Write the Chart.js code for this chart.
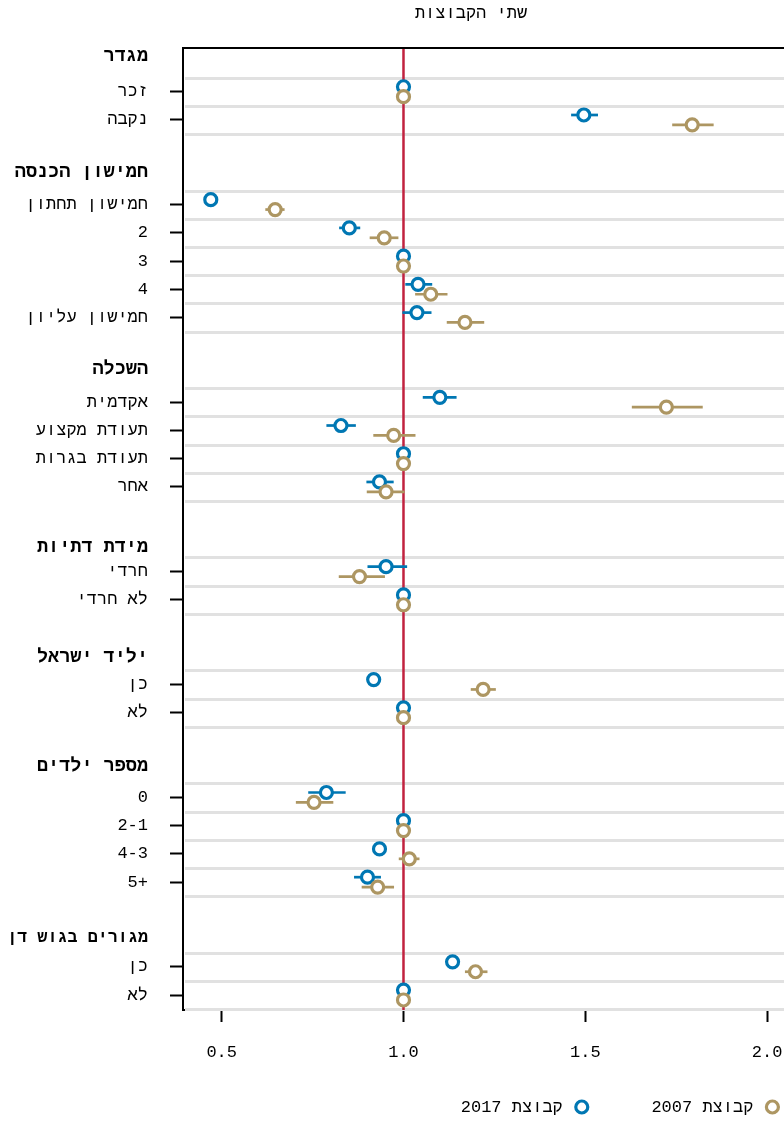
<!DOCTYPE html>
<html>
<head>
<meta charset="utf-8">
<script src="https://cdn.jsdelivr.net/npm/chart.js@4.4.1/dist/chart.umd.min.js"></script>
<style>
  html, body { margin: 0; padding: 0; background: #ffffff; }
  #wrap { width: 784px; height: 1121px; position: relative; }
</style>
</head>
<body>
<div id="wrap"><canvas id="c" width="784" height="1121"></canvas></div>
<script>
// ---- data ----
const groupNames = ['מגדר', 'חמישון הכנסה', 'השכלה', 'מידת דתיות', 'יליד ישראל', 'מספר ילדים', 'מגורים בגוש דן'];
const categories = ['זכר', 'נקבה',
  'חמישון תחתון', '2', '3', '4', 'חמישון עליון',
  'אקדמית', 'תעודת מקצוע', 'תעודת בגרות', 'אחר',
  'חרדי', 'לא חרדי',
  'כן', 'לא',
  '0', '2-1', '4-3', '5+',
  'כן', 'לא'];
const categoryGroup = [0, 0, 1, 1, 1, 1, 1, 2, 2, 2, 2, 3, 3, 4, 4, 5, 5, 5, 5, 6, 6];

const seriesLabels = ['קבוצת 2007', 'קבוצת 2017'];

const ratio2017 = [1, 1.496, 0.470, 0.851, 1, 1.040, 1.037, 1.100, 0.828, 1, 0.934, 0.952, 1, 0.918, 1, 0.788, 1, 0.934, 0.901, 1.135, 1];
const low2017   = [null, 1.461, 0.460, 0.823, null, 1.005, 0.997, 1.053, 0.788, null, 0.898, 0.901, null, 0.908, null, 0.738, null, 0.924, 0.864, 1.125, null];
const high2017  = [null, 1.535, 0.480, 0.881, null, 1.079, 1.077, 1.146, 0.869, null, 0.973, 1.010, null, 0.928, null, 0.841, null, 0.944, 0.938, 1.145, null];

const ratio2007 = [1, 1.794, 0.647, 0.947, 1, 1.075, 1.169, 1.723, 0.973, 1, 0.952, 0.879, 1, 1.219, 1, 0.754, 1, 1.016, 0.929, 1.198, 1];
const low2007   = [null, 1.739, 0.620, 0.907, null, 1.032, 1.119, 1.628, 0.917, null, 0.899, 0.822, null, 1.185, null, 0.704, null, 0.987, 0.885, 1.169, null];
const high2007  = [null, 1.853, 0.673, 0.986, null, 1.121, 1.222, 1.823, 1.033, null, 1.003, 0.949, null, 1.254, null, 0.807, null, 1.044, 0.974, 1.231, null];

const xTickValues = [0.5, 1.0, 1.5, 2.0];

// ---- layout helpers ----
const FONT = 'Liberation Mono';
const COL_2007 = '#ad9662';
const COL_2017 = '#0077b3';
const MARK_R = 6;
const MARK_W = 3.2;
const GROUP_GAP = 2;                                    // empty rows between groups
const headerLift = [1.24, 1.13, 1.18, 0.87, 0.96, 1.11, 1.02]; // header row above first category
const SERIES_SHIFT = 0.175;                             // vertical split of the two series inside a row
const HEADER_MAX_WIDTH = 141;                           // room for bold headers left of the ticks

const rowOf = i => i + GROUP_GAP * categoryGroup[i];
const firstRowOfGroup = g => rowOf(categoryGroup.indexOf(g));

// y ticks: group headers + categories
const yTicks = [];
groupNames.forEach((name, g) => {
  yTicks.push({ value: firstRowOfGroup(g) - headerLift[g], label: name, header: true });
  categories.forEach((c, i) => {
    if (categoryGroup[i] === g) yTicks.push({ value: rowOf(i), label: c, header: false });
  });
});

// monospace advance is 0.6em: shrink long headers so they fit the axis area
const headerSize = label => Math.min(18.5, HEADER_MAX_WIDTH / (label.length * 0.6));

const makePoints = (vals, lo, hi, shift) =>
  categories.map((c, i) => ({ x: vals[i], y: rowOf(i) + shift, lo: lo[i], hi: hi[i] }));

// ---- plugins ----
const backdrop = {
  id: 'backdrop',
  beforeDatasetsDraw(chart) {
    const { ctx, chartArea: a, scales: { x, y } } = chart;
    ctx.save();
    // light row separators around each category
    ctx.strokeStyle = '#e1e1e1';
    ctx.lineWidth = 3;
    const seps = new Set();
    categories.forEach((c, i) => { seps.add(rowOf(i) - 0.5); seps.add(rowOf(i) + 0.5); });
    seps.forEach(v => {
      const py = Math.round(y.getPixelForValue(v)) + 0.5;
      ctx.beginPath(); ctx.moveTo(a.left + 2, py); ctx.lineTo(a.right, py); ctx.stroke();
    });
    // reference line at 1
    const rx = x.getPixelForValue(1);
    ctx.strokeStyle = '#c1223f';
    ctx.lineWidth = 2.5;
    ctx.beginPath(); ctx.moveTo(rx, a.top); ctx.lineTo(rx, a.bottom); ctx.stroke();
    // confidence intervals
    chart.data.datasets.forEach(ds => {
      ctx.strokeStyle = ds.borderColor;
      ctx.lineWidth = 2.7;
      ds.data.forEach(p => {
        if (p.lo == null) return;
        const py = y.getPixelForValue(p.y);
        ctx.beginPath();
        ctx.moveTo(x.getPixelForValue(p.lo), py);
        ctx.lineTo(x.getPixelForValue(p.hi), py);
        ctx.stroke();
      });
    });
    // top frame line
    ctx.strokeStyle = '#000';
    ctx.lineWidth = 2;
    ctx.beginPath(); ctx.moveTo(a.left - 1, a.top); ctx.lineTo(a.right, a.top); ctx.stroke();
    ctx.restore();
  }
};

const heading = {
  id: 'heading',
  afterDraw(chart) {
    const { ctx } = chart;
    ctx.save();
    ctx.font = `17px "${FONT}"`;
    ctx.fillStyle = '#000';
    ctx.textAlign = 'center';
    ctx.textBaseline = 'middle';
    ctx.fillText('שתי הקבוצות', 471, 13);
    ctx.restore();
  }
};

const seriesKey = {
  id: 'seriesKey',
  afterDraw(chart) {
    const { ctx } = chart;
    ctx.save();
    ctx.font = `17px "${FONT}"`;
    ctx.direction = 'rtl';
    ctx.textAlign = 'right';
    ctx.textBaseline = 'middle';
    const cy = 1107;
    let xr = 780;
    chart.data.datasets.forEach(ds => {
      const cx = xr - MARK_R - 1.6;
      ctx.beginPath(); ctx.arc(cx, cy, MARK_R, 0, Math.PI * 2);
      ctx.fillStyle = '#fff'; ctx.fill();
      ctx.strokeStyle = ds.borderColor; ctx.lineWidth = MARK_W; ctx.stroke();
      const tx = cx - MARK_R - 13;
      ctx.fillStyle = '#000';
      ctx.fillText(ds.label, tx, cy);
      xr = tx - ctx.measureText(ds.label).width - 62;
    });
    ctx.restore();
  }
};

// ---- chart ----
new Chart(document.getElementById('c'), {
  type: 'scatter',
  data: {
    datasets: [
      {
        label: seriesLabels[0],
        data: makePoints(ratio2007, low2007, high2007, SERIES_SHIFT),
        borderColor: COL_2007, backgroundColor: '#ffffff',
        pointRadius: MARK_R, pointBorderWidth: MARK_W, pointHoverRadius: MARK_R
      },
      {
        label: seriesLabels[1],
        data: makePoints(ratio2017, low2017, high2017, -SERIES_SHIFT),
        borderColor: COL_2017, backgroundColor: '#ffffff',
        pointRadius: MARK_R, pointBorderWidth: MARK_W, pointHoverRadius: MARK_R
      }
    ]
  },
  options: {
    responsive: false,
    devicePixelRatio: 1,
    animation: false,
    layout: { autoPadding: false, padding: { top: 48, left: 0, right: 0, bottom: 0 } },
    plugins: { legend: { display: false }, tooltip: { enabled: false }, title: { display: false } },
    scales: {
      x: {
        type: 'linear',
        min: 0.3936,
        max: 2.0465,
        afterFit: s => { s.height = 111; s.paddingRight = 0; s.paddingLeft = 0; },
        afterBuildTicks: s => { s.ticks = xTickValues.map(v => ({ value: v })); },
        ticks: {
          callback: v => Number(v).toFixed(1),
          font: { family: FONT, size: 17 },
          color: '#000',
          padding: 20,
          maxRotation: 0,
          autoSkip: false
        },
        grid: { drawOnChartArea: false, drawTicks: true, tickLength: 12, tickWidth: 2, tickColor: '#000' },
        border: { display: true, color: '#000', width: 2 }
      },
      y: {
        type: 'linear',
        reverse: true,
        min: -1.548,
        max: 32.53,
        afterFit: s => { s.width = 183; s.paddingTop = 0; s.paddingBottom = 0; },
        afterBuildTicks: s => { s.ticks = yTicks.map(t => ({ value: t.value })); },
        ticks: {
          autoSkip: false,
          padding: 22,
          color: '#000',
          callback: (v, i) => yTicks[i].label,
          font: ctx => {
            const t = yTicks[ctx.index];
            return (t && t.header)
              ? { family: FONT, size: headerSize(t.label), weight: 'bold' }
              : { family: FONT, size: 17 };
          }
        },
        grid: {
          drawOnChartArea: false,
          drawTicks: true,
          tickLength: 13,
          tickWidth: 2,
          tickColor: ctx => (yTicks[ctx.index] && yTicks[ctx.index].header) ? 'rgba(0,0,0,0)' : '#000'
        },
        border: { display: true, color: '#000', width: 2 }
      }
    }
  },
  plugins: [backdrop, heading, seriesKey]
});
</script>
</body>
</html>
